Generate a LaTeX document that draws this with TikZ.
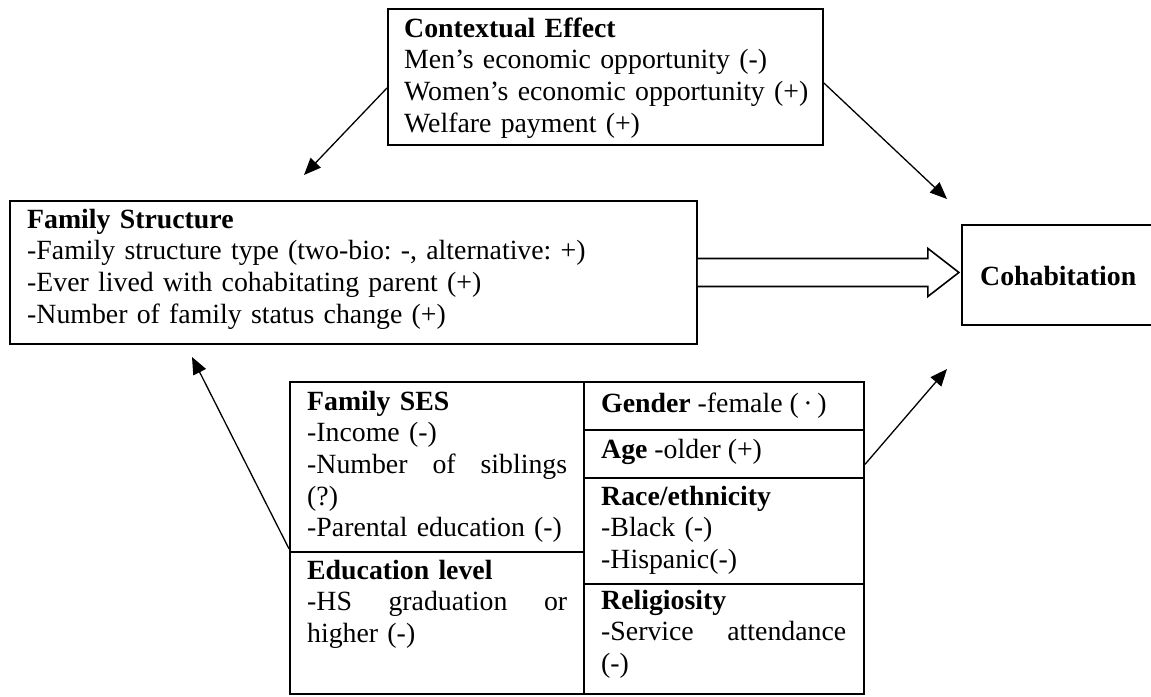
\documentclass[tikz,border=0pt]{standalone}
\usepackage{fontspec}
\setmainfont{Liberation Serif}
\usetikzlibrary{arrows.meta,calc}
\newcommand{\jline}[2]{\leavevmode\hbox to #1{#2}}
\frenchspacing
\begin{document}
\begin{tikzpicture}[x=1pt,y=-1pt,
  box/.style={draw,line width=1.9pt,inner sep=0pt,anchor=north west},
  txt/.style={anchor=base west,inner sep=0pt,align=left,font=\fontsize{27.8}{31.7}\selectfont\frenchspacing},
  arr/.style={line width=1.3pt,-{Triangle[length=17pt,width=14pt]}},
  hollow/.style={line width=1.6pt,fill=white,line join=miter}
]
\useasboundingbox (0,0) rectangle (1151,696);

% boxes
\node[box,minimum width=435pt,minimum height=136pt] (ctx) at (387,8) {};
\node[box,minimum width=687pt,minimum height=143pt] (fam) at (9,200) {};
\node[box,minimum width=200pt,minimum height=100pt] (coh) at (961,224) {};
\node[box,minimum width=294pt,minimum height=170pt] (ses) at (289,381) {};
\node[box,minimum width=294pt,minimum height=142pt] (edu) at (289,551) {};
\node[box,minimum width=280pt,minimum height=48pt] (gen) at (583,381) {};
\node[box,minimum width=280pt,minimum height=48pt] (age) at (583,429) {};
\node[box,minimum width=280pt,minimum height=106pt] (race) at (583,477) {};
\node[box,minimum width=280pt,minimum height=110pt] (rel) at (583,583) {};

% texts
\node[txt,text width=430pt] (ctxT) at (404,37) {\textbf{Contextual Effect}\\Men’s economic opportunity (-)\\Women’s economic opportunity (+)\\Welfare payment (+)};
\node[txt,text width=660pt] (famT) at (27,228) {\textbf{Family Structure}\\-Family structure type (two-bio: -, alternative: +)\\-Ever lived with cohabitating parent (+)\\-Number of family status change (+)};
\node[txt] (cohT) at (980,285) {\textbf{Cohabitation}};
\node[txt,text width=260pt] (sesT) at (307,410) {\textbf{Family SES}\\-Income (-)\\\jline{260pt}{-Number\hfill of\hfill siblings}\\(?)\\-Parental education (-)};
\node[txt,text width=260pt] (eduT) at (307,579) {\textbf{Education level}\\\jline{260pt}{-HS\hfill graduation\hfill or}\\higher (-)};
\node[txt] (genT) at (601,412) {\textbf{Gender} -female (\,·\,)};
\node[txt] (ageT) at (601,458) {\textbf{Age} -older (+)};
\node[txt,text width=245pt] (raceT) at (601,505) {\textbf{Race/ethnicity}\\-Black (-)\\-Hispanic(-)};
\node[txt,text width=245pt] (relT) at (601,609) {\textbf{Religiosity}\\\jline{245pt}{-Service\hfill attendance}\\(-)};

% connector end points
\coordinate (a1s) at ($(ctx.north west)!0.58!(ctx.south west)$);
\coordinate (a1e) at (304,175);
\coordinate (a2s) at ($(ctx.north east)!0.544!(ctx.south east)$);
\coordinate (a2e) at (947,199);
\coordinate (a3s) at ($(ses.north west)!0.976!(ses.south west)$);
\coordinate (a3e) at (192,357);
\coordinate (a4s) at ($(age.north east)!0.71!(age.south east)$);
\coordinate (a4e) at (947,369);

\draw[arr] (a1s) -- (a1e);
\draw[arr] (a2s) -- (a2e);
\draw[arr] (a3s) -- (a3e);
\draw[arr] (a4s) -- (a4e);

% hollow arrow from family structure to cohabitation
\draw[hollow] ($(fam.east)+(0,-14)$) -- ++(230,0) -- ++(0,-10) -- ($(fam.east)+(261,0)$)
  -- ($(fam.east)+(230,24)$) -- ++(0,-10) -- ($(fam.east)+(0,14)$);
\end{tikzpicture}
\end{document}
